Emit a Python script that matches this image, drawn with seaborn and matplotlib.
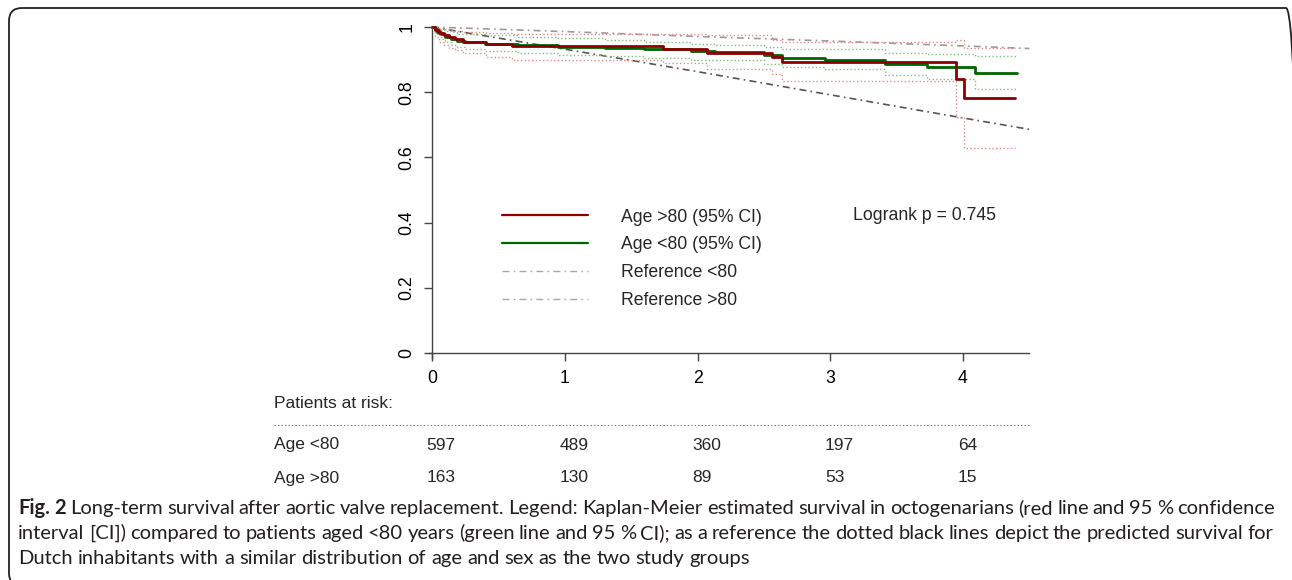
import numpy as np
import pandas as pd
import matplotlib
matplotlib.use("Agg")
import matplotlib.pyplot as plt
import seaborn as sns
from matplotlib.patches import FancyBboxPatch
from matplotlib.lines import Line2D
from matplotlib.transforms import blended_transform_factory


# Kaplan-Meier estimate, age > 80 (with 95% CI)
t_old = [0, 0.02, 0.05, 0.09, 0.13, 0.17, 0.23, 0.41, 0.60, 1.74, 2.07, 2.56, 2.64, 3.95, 4.01, 4.39]
s_old = [1, 0.990, 0.982, 0.975, 0.968, 0.962, 0.954, 0.948, 0.943, 0.932, 0.920, 0.907, 0.894, 0.840, 0.782, 0.782]
hi_old = [1, 1.000, 0.998, 0.995, 0.992, 0.988, 0.984, 0.981, 0.979, 0.977, 0.975, 0.960, 0.953, 0.960, 0.937, 0.937]
lo_old = [1, 0.970, 0.955, 0.945, 0.935, 0.928, 0.920, 0.909, 0.899, 0.889, 0.870, 0.855, 0.835, 0.725, 0.630, 0.630]

# Kaplan-Meier estimate, age < 80 (with 95% CI)
t_young = [0, 0.02, 0.04, 0.07, 0.10, 0.14, 0.19, 0.25, 0.40, 0.65, 0.95, 1.30, 1.60, 1.95,
           2.13, 2.50, 2.64, 2.96, 3.41, 3.73, 4.09, 4.41]
s_young = [1, 0.993, 0.985, 0.977, 0.970, 0.964, 0.958, 0.953, 0.948, 0.944, 0.940, 0.936, 0.932, 0.926,
           0.924, 0.914, 0.904, 0.899, 0.886, 0.877, 0.860, 0.860]
hi_young = [1, 1.000, 0.996, 0.992, 0.988, 0.984, 0.980, 0.977, 0.974, 0.970, 0.966, 0.960, 0.955, 0.949,
            0.945, 0.938, 0.931, 0.931, 0.921, 0.916, 0.911, 0.911]
lo_young = [1, 0.986, 0.975, 0.964, 0.955, 0.946, 0.939, 0.932, 0.926, 0.920, 0.915, 0.910, 0.905, 0.900,
            0.898, 0.887, 0.876, 0.870, 0.853, 0.840, 0.809, 0.809]

# expected survival of Dutch inhabitants (reference)
t_ref = [0, 1, 2, 3, 4, 4.5]
ref_young = [1, 0.986, 0.971, 0.957, 0.942, 0.934]
ref_old = [1, 0.932, 0.863, 0.792, 0.721, 0.686]

# numbers at risk
risk_times = [0, 1, 2, 3, 4]
risk_young = [597, 489, 360, 197, 64]
risk_old = [163, 130, 89, 53, 15]

caption = [
    "Fig. 2 Long-term survival after aortic valve replacement. Legend: Kaplan-Meier estimated survival in octogenarians (red line and 95 % confidence",
    "interval [CI]) compared to patients aged <80 years (green line and 95 % CI); as a reference the dotted black lines depict the predicted survival for",
    "Dutch inhabitants with a similar distribution of age and sex as the two study groups",
]

W, H = 1292, 580
def fx(px):
    return px / W
def fy(py):
    return 1 - py / H

sns.set_style("white")
plt.rcParams['font.family'] = ['Liberation Sans', 'DejaVu Sans']
plt.rcParams['lines.scale_dashes'] = False

fig = plt.figure(figsize=(W / 100, H / 100), dpi=100)
ax = fig.add_axes([fx(420), fy(360), (1040 - 420) / W, (360 - 20) / H])

dashdot = (0, (5, 3, 1.2, 3))
sns.lineplot(x=t_ref, y=ref_young, color="#9a9a9a", lw=1.2, linestyle=dashdot, ax=ax, label="Reference <80")
sns.lineplot(x=t_ref, y=ref_old, color="#555555", lw=1.2, linestyle=dashdot, ax=ax, label="Reference >80")

for t, lo, hi, c in [(t_young, lo_young, hi_young, "#7fbf7f"), (t_old, lo_old, hi_old, "#e58a8a")]:
    sns.lineplot(x=t, y=hi, color=c, lw=1.0, linestyle=":", drawstyle="steps-post",
                 estimator=None, sort=False, ax=ax)
    sns.lineplot(x=t, y=lo, color=c, lw=1.0, linestyle=":", drawstyle="steps-post",
                 estimator=None, sort=False, ax=ax)

sns.lineplot(x=t_young, y=s_young, color="#006400", lw=2.0, drawstyle="steps-post",
             estimator=None, sort=False, ax=ax, label="Age <80 (95% CI)")
sns.lineplot(x=t_old, y=s_old, color="#8b0000", lw=2.0, drawstyle="steps-post",
             estimator=None, sort=False, ax=ax, label="Age >80 (95% CI)")

ax.set_xlim(-12 / 132.75, 608 / 132.75)
ax.set_ylim(-7 / 326, 1 + 7 / 326)
for s in ["top", "right"]:
    ax.spines[s].set_visible(False)
ax.spines["left"].set_position(("data", 0))
ax.spines["bottom"].set_position(("data", 0))
ax.spines["left"].set_bounds(-0.015, 1)
ax.spines["bottom"].set_bounds(-0.02, 4.5)
for s in ["left", "bottom"]:
    ax.spines[s].set_color("#444444")
    ax.spines[s].set_linewidth(1.0)
ax.set_xticks(risk_times)
ax.set_yticks([0, 0.2, 0.4, 0.6, 0.8, 1])
ax.set_yticklabels(["0", "0.2", "0.4", "0.6", "0.8", "1"], rotation=90, va="center")
ax.tick_params(axis="both", direction="out", length=6, width=1.0, color="#444444",
               labelsize=12.7, labelcolor="black", left=True, bottom=True, pad=6)
ax.set_xlabel("")
ax.set_ylabel("")

handles, labels = ax.get_legend_handles_labels()
order = ["Age >80 (95% CI)", "Age <80 (95% CI)", "Reference <80", "Reference >80"]
hmap = dict(zip(labels, handles))
leg_handles = [Line2D([], [], color="#8b0000", lw=1.6),
               Line2D([], [], color="#006400", lw=1.6),
               Line2D([], [], color="#a8a8a8", lw=1.0, linestyle=dashdot),
               Line2D([], [], color="#a8a8a8", lw=1.0, linestyle=dashdot)]
ax.legend(leg_handles, order, loc="upper left",
          bbox_to_anchor=((502 - 432) / 132.75, (353 - 208.5) / 326), bbox_transform=ax.transData,
          frameon=False, fontsize=12.7, handlelength=4.9, handletextpad=1.86,
          labelspacing=0.61, borderpad=0, borderaxespad=0)

ax.text((853 - 432) / 132.75, (353 - 216) / 326, "Logrank p = 0.745", fontsize=12.7,
        ha="left", va="center")

# numbers at risk table
tr = blended_transform_factory(ax.transData, fig.transFigure)
fig.text(fx(274), fy(403), "Patients at risk:", fontsize=12.5, va="center")
fig.add_artist(Line2D([fx(274), fx(1030)], [fy(425), fy(425)], color="#777777", lw=0.8,
                      linestyle=(0, (1, 1.5)), transform=fig.transFigure))
for label, counts, py in [("Age <80", risk_young, 445), ("Age >80", risk_old, 478)]:
    fig.text(fx(274), fy(py), label, fontsize=12.5, va="center")
    for t, n in zip(risk_times, counts):
        ax.text(t - 0.04, fy(py), str(n), transform=tr, fontsize=12.5, va="center", ha="left")

# caption, justified word by word
cap_kw = dict(fontsize=14.5, color="#231f20", family=["Lato", "DejaVu Sans"], va="baseline")
renderer = fig.canvas.get_renderer()
for i, (line, base, x1) in enumerate(zip(caption, [514, 539, 564], [1275, 1273, None])):
    words = line.split(" ")
    arts = []
    for j, w in enumerate(words):
        bold = (i == 0 and j < 2)
        arts.append(fig.text(0, fy(base), w, fontweight="bold" if bold else "normal", **cap_kw))
    widths = [a.get_window_extent(renderer).width for a in arts]
    if x1 is None:
        gap = 5.0
    else:
        gap = (x1 - 18 - sum(widths)) / (len(words) - 1)
    x = 18
    for a, w in zip(arts, widths):
        a.set_x(fx(x))
        x += w + gap

fig.add_artist(FancyBboxPatch((9, -6), 1290, 578, boxstyle="round,pad=0,rounding_size=13",
                              transform=None, fill=False, ec="#222222", lw=1.3))

fig.savefig("out.png", dpi=100)
